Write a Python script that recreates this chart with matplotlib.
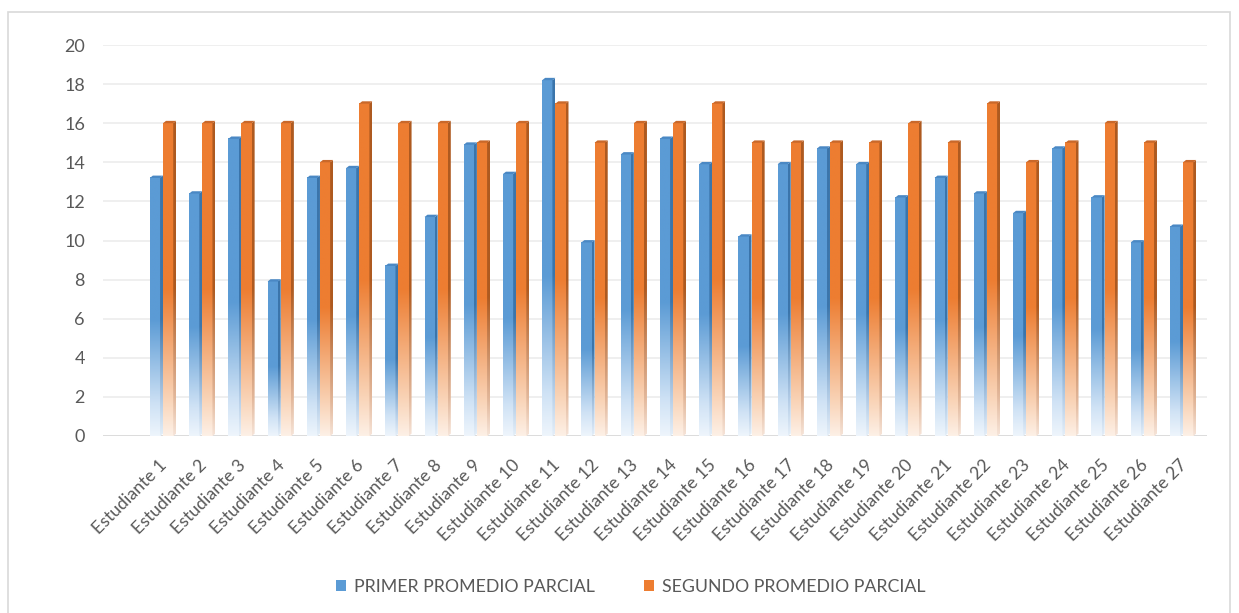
import numpy as np
import matplotlib
matplotlib.use("Agg")
import matplotlib.pyplot as plt
import matplotlib.transforms as mtransforms
from matplotlib.colors import LinearSegmentedColormap
from matplotlib.patches import Polygon, Rectangle, Patch

estudiantes = [f"Estudiante {i}" for i in range(1, 28)]
primer_promedio = [13.2, 12.4, 15.2, 7.9, 13.2, 13.7, 8.7, 11.2, 14.9, 13.4,
                   18.2, 9.9, 14.4, 15.2, 13.9, 10.2, 13.9, 14.7, 13.9, 12.2,
                   13.2, 12.4, 11.4, 14.7, 12.2, 9.9, 10.7]
segundo_promedio = [16, 16, 16, 16, 14, 17, 16, 16, 15, 16,
                    17, 15, 16, 16, 17, 15, 15, 15, 15, 16,
                    15, 17, 14, 15, 16, 15, 14]
series_names = ["PRIMER PROMEDIO PARCIAL", "SEGUNDO PROMEDIO PARCIAL"]

plt.rcParams['font.family'] = ['Lato', 'DejaVu Sans']
TXT = '#595959'

# front / side / top colours per series
blue = dict(front=LinearSegmentedColormap.from_list(
                'bf', [(0, '#eef5fc'), (0.12, '#cfe2f5'), (0.45, '#5b9bd5'), (1, '#5b9bd5')]),
            side=LinearSegmentedColormap.from_list(
                'bs', [(0, '#e4eef8'), (0.12, '#b7cfe8'), (0.45, '#3b75ab'), (1, '#3b75ab')]),
            top='#4a88c4', legend='#5b9bd5')
orange = dict(front=LinearSegmentedColormap.from_list(
                'of', [(0, '#fdf0e6'), (0.12, '#f9d3b6'), (0.47, '#ed7d31'), (1, '#ed7d31')]),
              side=LinearSegmentedColormap.from_list(
                'os', [(0, '#f6e4d8'), (0.12, '#e2b79a'), (0.47, '#ae5a20'), (1, '#ae5a20')]),
              top='#c9682a', legend='#ed7d31')

fig = plt.figure(figsize=(12.39, 6.13), dpi=100)
ax = fig.add_axes([103 / 1239, 1 - 436 / 613, 1104 / 1239, 391 / 613])

ax.set_xlim(-1.53, 26.61)
ax.set_ylim(0, 20)

grad = np.linspace(0, 1, 256).reshape(-1, 1)
front_w = 0.26
side_w = 0.075
dy = 0.12


def draw_bar(x0, h, style):
    x1 = x0 + front_w
    ax.imshow(grad, cmap=style['front'], extent=[x0, x1, 0, h], origin='lower',
              aspect='auto', zorder=3, interpolation='bilinear')
    side = Polygon([(x1, 0), (x1 + side_w, dy), (x1 + side_w, h + dy), (x1, h)],
                   closed=True, facecolor='none', edgecolor='none')
    ax.add_patch(side)
    im = ax.imshow(grad, cmap=style['side'], extent=[x1, x1 + side_w, 0, h + dy],
                   origin='lower', aspect='auto', zorder=3, interpolation='bilinear')
    im.set_clip_path(side)
    ax.add_patch(Polygon([(x0, h), (x1, h), (x1 + side_w, h + dy), (x0 + side_w, h + dy)],
                         closed=True, facecolor=style['top'], edgecolor='none', zorder=4))


for i in range(len(estudiantes)):
    draw_bar(i - 0.335, primer_promedio[i], blue)
    draw_bar(i, segundo_promedio[i], orange)

ax.set_yticks(range(0, 21, 2))
ax.yaxis.grid(True, color='#ebebeb', lw=1.1)
ax.set_axisbelow(True)
for s in ax.spines.values():
    s.set_visible(False)
ax.axhline(0, color='#d9d9d9', lw=1.2, zorder=2)

ax.set_xticks(range(len(estudiantes)))
ax.set_xticklabels(estudiantes, rotation=45, ha='right', rotation_mode='anchor')
ax.tick_params(axis='x', length=0, pad=15, labelsize=12.7, labelcolor=TXT)
ax.tick_params(axis='y', length=0, pad=13, labelsize=13, labelcolor=TXT)
shift = mtransforms.ScaledTranslation(-4 / 100, 0, fig.dpi_scale_trans)
for lbl in ax.get_xticklabels():
    lbl.set_transform(lbl.get_transform() + shift)

handles = [Patch(facecolor=blue['legend']), Patch(facecolor=orange['legend'])]
fig.legend(handles, series_names, loc='center', bbox_to_anchor=(0.509, 1 - 587 / 613),
           ncol=2, frameon=False, handlelength=0.55, handleheight=0.55,
           handletextpad=0.45, columnspacing=2.8, prop={'size': 12.8}, labelcolor=TXT)

# outer chart border
fig.patches.append(Rectangle((8 / 1239, -0.01), 1222 / 1239, 1 - 12 / 613 + 0.01,
                             transform=fig.transFigure, fill=False,
                             edgecolor='#d9d9d9', lw=1.2))

fig.savefig("out.png", dpi=100)
